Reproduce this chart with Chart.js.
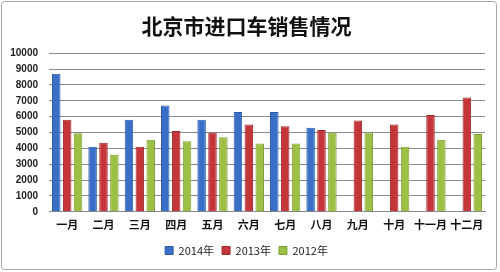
<!DOCTYPE html>
<html>
<head>
<meta charset="utf-8">
<script src="https://cdn.jsdelivr.net/npm/chart.js@4/dist/chart.umd.min.js"></script>
<style>
  html, body { margin: 0; padding: 0; background: #fff; }
  #wrap { width: 500px; height: 272px; }
</style>
</head>
<body>
<div id="wrap"><canvas id="myChart" width="500" height="272"></canvas></div>
<script>
"use strict";

// 数据
const months = ["一月", "二月", "三月", "四月", "五月", "六月", "七月", "八月", "九月", "十月", "十一月", "十二月"];
const sales2014 = [8700, 4100, 5800, 6700, 5800, 6300, 6300, 5300, null, null, null, null];
const sales2013 = [5800, 4350, 4100, 5100, 5000, 5500, 5400, 5150, 5750, 5500, 6100, 7200];
const sales2012 = [4950, 3600, 4550, 4450, 4700, 4300, 4300, 5000, 5000, 4100, 4550, 4900];
const yTicks = [0, 1000, 2000, 3000, 4000, 5000, 6000, 7000, 8000, 9000, 10000];

// 外框
const frame = {
    id: "frame",
    beforeDraw(chart) {
        const c = chart.ctx;
        c.save();
        c.strokeStyle = "#a6a6a6";
        c.lineWidth = 1;
        c.beginPath();
        c.roundRect(1.5, 1.5, 495, 268, 3);
        c.stroke();
        c.restore();
    }
};

function createChart() {
    const ctx = document.getElementById("myChart").getContext("2d");
    new Chart(ctx, {
        type: "bar",
        data: {
            labels: months,
            datasets: [
                { label: "2014年", data: sales2014, backgroundColor: "#3a6fc8", borderColor: "#2f5ca8", borderWidth: 1 },
                { label: "2013年", data: sales2013, backgroundColor: "#c4363a", borderColor: "#a02a2d", borderWidth: 1 },
                { label: "2012年", data: sales2012, backgroundColor: "#9cc043", borderColor: "#80a036", borderWidth: 1 }
            ]
        },
        options: {
            responsive: false,
            animation: false,
            categoryPercentage: 0.9,
            barPercentage: 0.78,
            layout: { padding: { left: 8, right: 15, top: 8, bottom: 6 } },
            plugins: {
                title: {
                    display: true,
                    text: "北京市进口车销售情况",
                    color: "#111",
                    font: { family: "'Noto Sans CJK SC'", size: 21, weight: "bold" },
                    padding: { top: 5, bottom: 15 }
                },
                legend: {
                    position: "bottom",
                    labels: {
                        boxWidth: 8,
                        boxHeight: 8,
                        padding: 8,
                        color: "#222",
                        font: { family: "'Noto Sans CJK SC'", size: 11 }
                    }
                },
                tooltip: { enabled: false }
            },
            scales: {
                x: {
                    grid: { display: false, drawTicks: false },
                    border: { color: "#888" },
                    ticks: {
                        color: "#111",
                        padding: 6,
                        maxRotation: 0,
                        autoSkip: false,
                        font: { family: "'Noto Sans CJK SC'", size: 11, weight: "bold" }
                    }
                },
                y: {
                    min: 0,
                    max: 10000,
                    afterBuildTicks(axis) {
                        axis.ticks = yTicks.map(v => ({ value: v }));
                    },
                    afterFit(axis) {
                        axis.width = 41;
                    },
                    grid: { color: "#8c8c8c", drawTicks: false },
                    border: { display: false },
                    ticks: {
                        color: "#222",
                        padding: 11,
                        callback: value => String(value),
                        font: { family: "'Liberation Sans'", size: 10, weight: "bold" }
                    }
                }
            }
        },
        plugins: [frame]
    });
}

createChart();
</script>
</body>
</html>
